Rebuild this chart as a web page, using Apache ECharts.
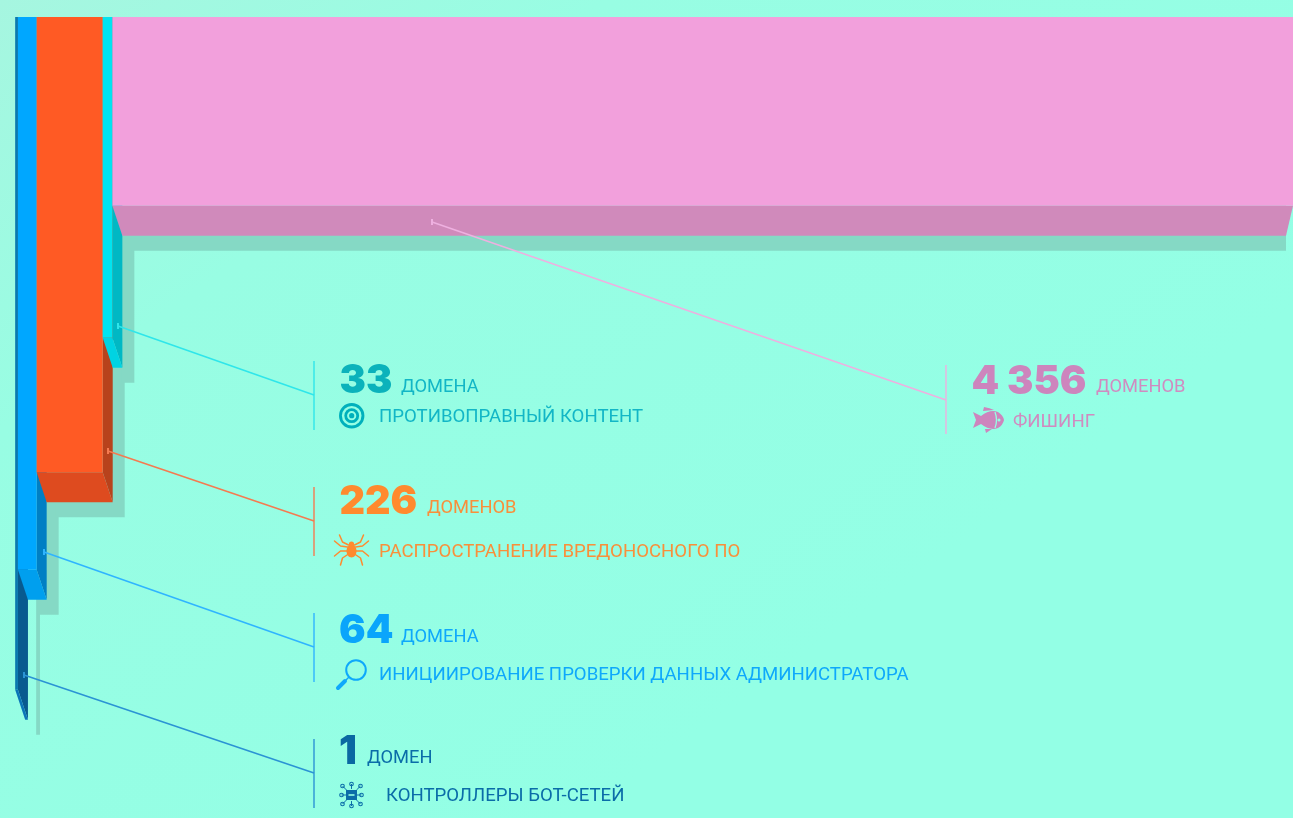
<!DOCTYPE html>
<html>
<head>
<meta charset="utf-8">
<style>html,body{margin:0;padding:0;background:#95ffe4;overflow:hidden}#c{width:1293px;height:818px}</style>
<script src="https://cdn.jsdelivr.net/npm/echarts@6/dist/echarts.min.js"></script>
</head>
<body>
<div id="c"></div>
<script>
// ---- data ----
const categories = ['Контроллеры бот-сетей','Инициирование проверки данных администратора','Распространение вредоносного ПО','Противоправный контент','Фишинг'];
const domainCounts = [1, 64, 226, 33, 4356];
const barDrop = [84.1, 69.1, 56.9, 40.1, 23.6];
const numberLabels = ['1', '64', '226', '33', '4 356'];
const unitLabels = ['ДОМЕН', 'ДОМЕНА', 'ДОМЕНОВ', 'ДОМЕНА', 'ДОМЕНОВ'];
const categoryLabels = ['КОНТРОЛЛЕРЫ БОТ-СЕТЕЙ','ИНИЦИИРОВАНИЕ ПРОВЕРКИ ДАННЫХ АДМИНИСТРАТОРА','РАСПРОСТРАНЕНИЕ ВРЕДОНОСНОГО ПО','ПРОТИВОПРАВНЫЙ КОНТЕНТ','ФИШИНГ'];

// ---- styles ----
const frontColors = ['#0b78ae','#00a7ff','#ff5a24','#00e4f0','#f2a0dc'];
const sideColors  = ['#085a8f','#007fc4','#b8421c','#00b8c4','#d08abb'];
const lowerColors = ['#0a74b8','#009fee','#de4b1f','#00d3e2','#d08abb'];
const shadowColor = '#85d9c5';
const depthX = 10, depthY = 30, shadowX = 12, shadowY = 15;
const minFront = 2.8;

let cum = 0;
const starts = domainCounts.map(v => { const s = cum; cum += v; return s; });

function barGeom(api, i) {
  const top = api.coord([0, 0])[1];
  const bottom = api.coord([0, barDrop[i]])[1];
  const plot = api.coord([4364, 0])[0];
  let x1 = api.coord([starts[i], 0])[0];
  let x2raw = api.coord([starts[i] + domainCounts[i], 0])[0];
  const clamped = x2raw > plot;
  const x2 = Math.min(x2raw, plot);
  if (x2 - x1 < minFront) x1 = x2 - minFront;
  const farX = clamped ? x2 - 7 : x2 + depthX;
  return {top, bottom, x1, x2, farX, clamped};
}

function renderShadow(params, api) {
  const i = api.value(0), g = barGeom(api, i);
  const l = g.x1 + depthX + 11 - (i === 0 ? 0 : 2);
  const r = g.clamped ? g.farX : g.farX + shadowX;
  return {type:'rect', shape:{x:l, y:g.top, width:r - l, height:g.bottom + depthY + shadowY - g.top}, style:{fill:shadowColor}};
}

function renderBar(params, api) {
  const i = api.value(0), g = barGeom(api, i);
  const c = [];
  if (!g.clamped) c.push({type:'polygon', shape:{points:[[g.x2,g.top],[g.x2,g.bottom],[g.farX,g.bottom + depthY],[g.farX,g.top]]}, style:{fill:sideColors[i]}});
  c.push({type:'polygon', shape:{points:[[g.x1,g.bottom],[g.x2,g.bottom],[g.farX,g.bottom + depthY],[g.x1 + depthX,g.bottom + depthY]]}, style:{fill:lowerColors[i]}});
  c.push({type:'rect', shape:{x:g.x1, y:g.top, width:g.x2 - g.x1, height:g.bottom - g.top}, style:{fill:frontColors[i]}});
  return {type:'group', children:c};
}

// ---- annotations ----
const numFont = '900 39.5px Inter, "DejaVu Sans"';
const unitFont = '400 18.3px Roboto, "Noto Sans"';
const catFont = '400 18.6px Roboto, "Noto Sans"';
const bg = '#95ffe4';
const T = (text, x, y, font, fill) => ({type:'text', x, y, style:{text, font, fill, textAlign:'left', textVerticalAlign:'middle'}});
const L = (x1, y1, x2, y2, stroke, w, cap) => ({type:'line', shape:{x1,y1,x2,y2}, style:{stroke, lineWidth:w, lineCap:cap||'butt'}});
const C = (cx, cy, r, fill) => ({type:'circle', shape:{cx,cy,r}, style:{fill}});
const R = (cx, cy, r, stroke, w) => ({type:'circle', shape:{cx,cy,r}, style:{fill:'none', stroke, lineWidth:w}});
const PL = (pts, stroke, w) => ({type:'polyline', shape:{points:pts}, style:{fill:'none', stroke, lineWidth:w, lineCap:'round', lineJoin:'round'}});

function labelBlock(i, cfg) {
  return [
    L(cfg.ruleX, cfg.ruleTop, cfg.ruleX, cfg.ruleTop + 69, cfg.line, 1.4),
    L(cfg.from[0], cfg.from[1], cfg.ruleX, cfg.to, cfg.line, 1.5),
    L(cfg.from[0], cfg.from[1] - 3, cfg.from[0], cfg.from[1] + 3, cfg.line, 2),
    T(numberLabels[i], cfg.numX, cfg.numY, numFont, cfg.numColor),
    T(unitLabels[i], cfg.unitX, cfg.unitY, unitFont, cfg.color),
    T(categoryLabels[i], cfg.catX, cfg.catY, catFont, cfg.color)
  ];
}

function targetIcon(cx, cy, col) {
  return [C(cx,cy,12.7,col), C(cx,cy,9.8,bg), C(cx,cy,7.4,col), C(cx,cy,4.6,bg), C(cx,cy,2.6,col)];
}
function spiderIcon(cx, cy, col) {
  const out = [{type:'ellipse', shape:{cx, cy:cy + 2, rx:5, ry:6.5}, style:{fill:col}}, C(cx, cy - 5, 2.6, col)];
  const legs = [
    [[-3,-4],[-9,-7],[-12,-14]], [[-4,-2],[-11,-3],[-17,-8]],
    [[-4,2],[-11,2],[-17,7]],    [[-3,5],[-9,9],[-11,16]]
  ];
  legs.forEach(p => {
    out.push(PL(p.map(q => [cx + q[0], cy + q[1]]), col, 1.5));
    out.push(PL(p.map(q => [cx - q[0], cy + q[1]]), col, 1.5));
  });
  return out;
}
function loupeIcon(col) {
  return [R(356, 670, 9.8, col, 2), L(349, 677, 346, 680, col, 1.4), L(345, 681, 338, 688, col, 4, 'round')];
}
function netIcon(cx, cy, col) {
  const out = [];
  const nodes = [[-9,-9],[0,-11],[9,-9],[-10,0],[10,0],[-9,9],[0,11],[9,9]];
  nodes.forEach(n => {
    out.push(L(cx + n[0] * 0.55, cy + n[1] * 0.55, cx + n[0], cy + n[1], col, 1));
    out.push(R(cx + n[0], cy + n[1], 1.8, col, 1.1));
  });
  out.push({type:'rect', shape:{x:cx - 5.5, y:cy - 5, width:11, height:10}, style:{fill:col}});
  out.push({type:'rect', shape:{x:cx - 3, y:cy - 0.8, width:6, height:1.6}, style:{fill:bg}});
  return out;
}
function fishIcon(col) {
  return [
    {type:'path', shape:{pathData:'M973 412 L981 416 Q990 409 998 412 Q1003 415 1004 420 Q1003 425 998 428 Q990 431 981 424 L973 428 L976 420 Z M983 411 L984 407 Q990 408 994 410 Z M985 429 L986 433 L992 429 Z'}, style:{fill:col}},
    {type:'path', shape:{pathData:'M995 412 Q998 420 995 428'}, style:{fill:'none', stroke:bg, lineWidth:1.3}},
    C(999, 420, 1.5, bg)
  ];
}

function renderNotes() {
  const kids = [].concat(
    labelBlock(0, {ruleX:314, ruleTop:739, line:'#2b93d4', from:[24,675], to:773, numX:339, numY:752, unitX:367, unitY:758, catX:386, catY:796, numColor:'#0a68a2', color:'#0a6ca8'}),
    labelBlock(1, {ruleX:314, ruleTop:613, line:'#2fb4ff', from:[44,552], to:647, numX:339, numY:631, unitX:401, unitY:637, catX:379, catY:675, numColor:'#0aa5fb', color:'#0ea8fb'}),
    labelBlock(2, {ruleX:314, ruleTop:487, line:'#f57a50', from:[108,451], to:521, numX:339.5, numY:502, unitX:427, unitY:508, catX:379, catY:552, numColor:'#ff8a2e', color:'#f98f3a'}),
    labelBlock(3, {ruleX:314, ruleTop:361, line:'#2fe6ea', from:[118,326], to:395, numX:339.5, numY:381, unitX:401, unitY:387, catX:379, catY:417, numColor:'#0bb2bb', color:'#12b6c6'}),
    labelBlock(4, {ruleX:946, ruleTop:365, line:'#eeb0e0', from:[432,222], to:400, numX:971.5, numY:382, unitX:1096, unitY:387, catX:1013, catY:422, numColor:'#cd85bd', color:'#d08bc0'}),
    targetIcon(351.7, 415.7, '#00b0bc'),
    spiderIcon(351.5, 549, '#ff8a2e'),
    loupeIcon('#0ea8fb'),
    netIcon(351.5, 795, '#0a6ca8'),
    fishIcon('#cd85bd')
  );
  return {type:'group', children:kids};
}

const chart = echarts.init(document.getElementById('c'), null, {renderer:'canvas', width:1293, height:818});
const idx = domainCounts.map((v, i) => [i]);
chart.setOption({
  animation:false,
  backgroundColor:{type:'linear', x:0, y:0, x2:0.45, y2:1, colorStops:[{offset:0,color:'#a6f6e0'},{offset:0.35,color:'#98fde3'},{offset:1,color:'#93ffe5'}]},
  grid:{left:17.67, top:17, width:1277.33, height:800, containLabel:false},
  xAxis:{type:'value', min:0, max:4364, show:false},
  yAxis:{type:'value', min:0, max:100, inverse:true, show:false},
  tooltip:{show:false},
  series:[
    {type:'custom', name:'shadow', data:idx, encode:{x:0}, clip:false, silent:true, z:1, renderItem:renderShadow},
    {type:'custom', name:'domains', data:idx, encode:{x:0}, clip:false, silent:true, z:2, renderItem:renderBar},
    {type:'custom', name:'notes', data:[[0]], encode:{x:0}, clip:false, silent:true, z:3, renderItem:renderNotes}
  ]
});
</script>
</body>
</html>
